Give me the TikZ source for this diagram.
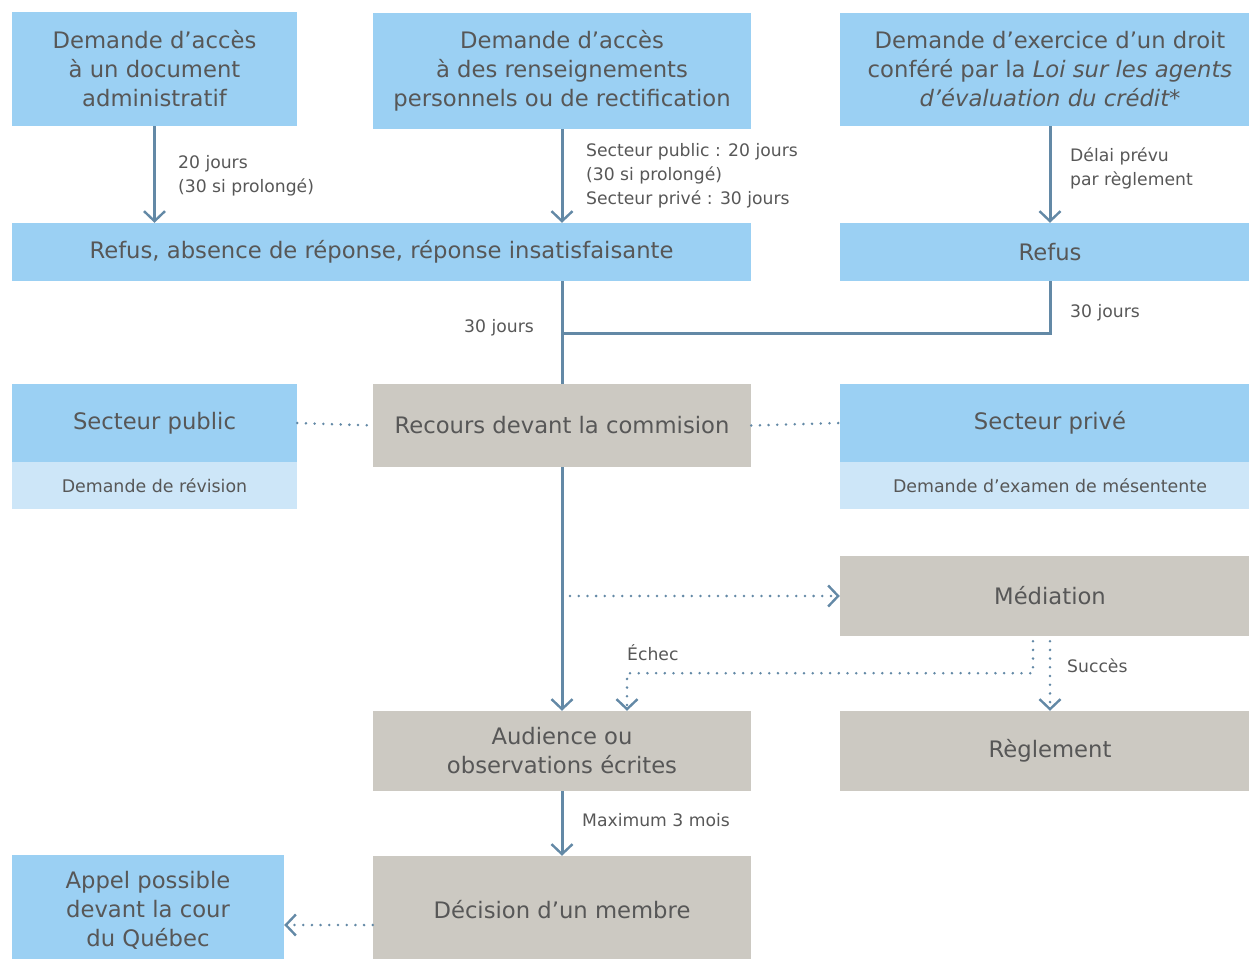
\documentclass[tikz,border=0pt]{standalone}
\usepackage{fontspec}
\setmainfont{DejaVu Sans}
\usetikzlibrary{arrows.meta}
\definecolor{boxblue}{HTML}{9BD0F3}
\definecolor{paleblue}{HTML}{CDE6F8}
\definecolor{boxgrey}{HTML}{CCC9C2}
\definecolor{flow}{HTML}{6389A6}
\definecolor{ink}{HTML}{575757}
\begin{document}
\begin{tikzpicture}[x=1pt, y=-1pt,
  >={Straight Barb[length=10pt, width=21pt, line width=2.4pt]},
  box/.style={inner sep=0pt, align=center, text=ink, font=\fontsize{22.7}{29}\selectfont},
  blubox/.style={box, fill=boxblue},
  grybox/.style={box, fill=boxgrey},
  subbox/.style={box, fill=paleblue, font=\fontsize{17.4}{24}\selectfont},
  note/.style={anchor=west, align=left, text=ink, inner sep=0pt, font=\fontsize{17.2}{24}\selectfont},
  flowline/.style={draw=flow, line width=3pt},
  dots/.style={draw=flow, line width=2.8pt, line cap=round, dash pattern=on 0pt off 8.7pt}]
\clip (0,0) rectangle (1249,958);
% requests
\node[blubox, minimum width=285pt, minimum height=114pt] (da) at (154.5,69) {Demande d’accès\\à un document\\administratif};
\node[blubox, minimum width=378pt, minimum height=116pt] (dr) at (562,71) {Demande d’accès\\à des renseignements\\personnels ou de rectification};
\node[blubox, minimum width=420pt, minimum height=113pt] (dc) at (1050,69.5) {Demande d’exercice d’un droit\\conféré par la \textit{Loi sur les agents}\\\textit{d’évaluation du crédit*}};
% refusals
\node[blubox, minimum width=739pt, minimum height=58pt] (rf) at (381.5,252) {Refus, absence de réponse, réponse insatisfaisante};
\node[blubox, minimum width=420pt, minimum height=58pt] (rc) at (1050,252) {Refus};
% commission and sectors
\node[blubox, minimum width=285pt, minimum height=78pt] (pub) at (154.5,423) {Secteur public};
\node[subbox, minimum width=285pt, minimum height=47pt] (pubd) at (154.5,485.5) {Demande de révision};
\node[grybox, minimum width=378pt, minimum height=83pt] (com) at (562,425.5) {Recours devant la commision};
\node[blubox, minimum width=420pt, minimum height=78pt] (pri) at (1050,423) {Secteur privé};
\node[subbox, minimum width=420pt, minimum height=47pt] (prid) at (1050,485.5) {Demande d’examen de mésentente};
% mediation and hearing
\node[grybox, minimum width=420pt, minimum height=80pt] (med) at (1050,596) {Médiation};
\node[grybox, minimum width=378pt, minimum height=80pt] (aud) at (562,751) {Audience ou\\observations écrites};
\node[grybox, minimum width=420pt, minimum height=80pt] (reg) at (1050,751) {Règlement};
\node[grybox, minimum width=378pt, minimum height=108pt] (dec) at (562,910) {Décision d’un membre};
\node[blubox, minimum width=272pt, minimum height=110pt] (app) at (148,910) {Appel possible\\devant la cour\\du Québec};
% delays
\draw[flowline, ->] (da.south) -- (da.south |- rf.north);
\draw[flowline, ->] (dr.south) -- (dr.south |- rf.north);
\draw[flowline, ->] (dc.south) -- (rc.north);
\node[note] (n1) at (178,176) {20 jours\\(30 si prolongé)};
\node[note] (n2) at (586,176) {Secteur public : 20 jours\\(30 si prolongé)\\Secteur privé : 30 jours};
\node[note] (n3) at (1070,168) {Délai prévu\\par règlement};
% to the commission
\coordinate (join) at (562,333);
\draw[flowline] (dr.south |- rf.south) -- (com.north);
\draw[flowline] (rc.south) |- (join);
\node[note, anchor=east] (n4) at (534,328) {30 jours};
\node[note] (n5) at (1070,313) {30 jours};
\draw[dots] (pub.east) -- (com.west);
\draw[dots] (com.east) -- (pri.west);
% mediation
\draw[flowline, ->] (com.south) -- (aud.north);
\coordinate (branch) at (570,596);
\draw[dots, ->] (branch) -- (med.west);
\draw[dots, ->] ([xshift=-17pt]med.south) ++(0,5) -- ++(0,32) -| ([xshift=65pt]aud.north);
\draw[dots, ->] (med.south) ++(0,5) -- (reg.north);
\node[note] (n6) at (627,653) {Échec};
\node[note] (n7) at (1067,666) {Succès};
% decision
\draw[flowline, ->] (aud.south) -- (dec.north);
\node[note] (n8) at (582,820) {Maximum 3 mois};
\draw[dots, ->] ([yshift=-15pt]dec.west) -- ([yshift=-15pt]app.east);
\end{tikzpicture}
\end{document}
